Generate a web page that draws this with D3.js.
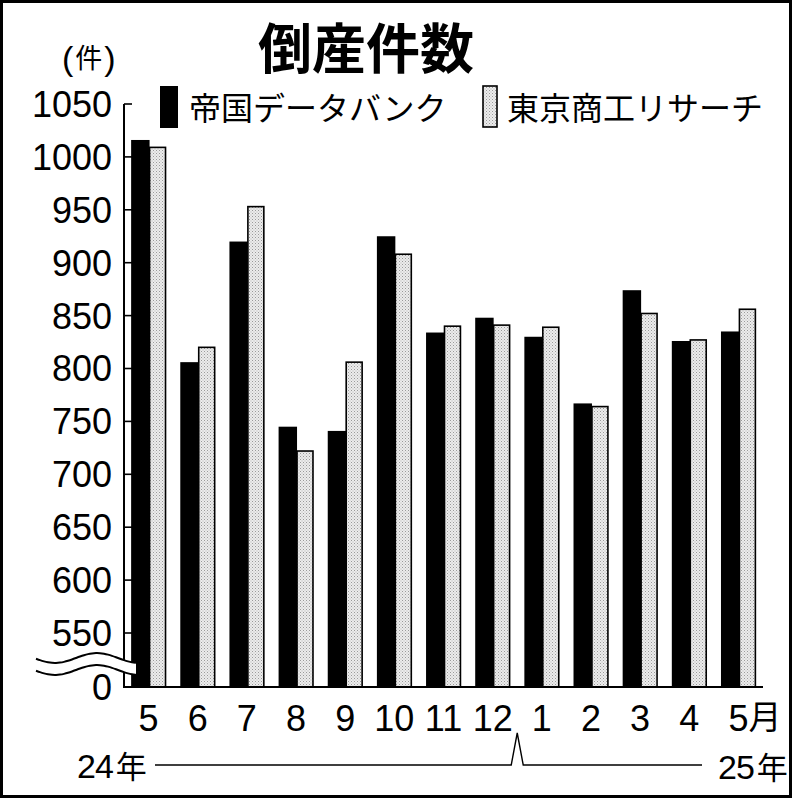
<!DOCTYPE html>
<html lang="ja">
<head>
<meta charset="UTF-8">
<title>倒産件数</title>
<script src="https://d3js.org/d3.v7.min.js"></script>
<style>
  body { margin: 0; background: #fff; }
  svg text { font-family: "Liberation Sans", Arial, "Noto Sans CJK JP", sans-serif; fill: #000; }
  .jp { font-family: "Noto Sans CJK JP", sans-serif; }
</style>
</head>
<body>
<svg width="793" height="800"></svg>
<script>
  // months on the x axis (May 2024 .. May 2025)
  const months = ["5", "6", "7", "8", "9", "10", "11", "12", "1", "2", "3", "4", "5"];
  // 帝国データバンク
  const tdb = [1016, 806, 920, 745, 741, 925, 834, 848, 830, 767, 874, 826, 835];
  // 東京商工リサーチ
  const tsr = [1009, 820, 953, 722, 806, 908, 840, 841, 839, 764, 852, 827, 856];
  const yTicks = [550, 600, 650, 700, 750, 800, 850, 900, 950, 1000, 1050];
  const seriesNames = ["帝国データバンク", "東京商工リサーチ"];

  const svg = d3.select("svg");
  const baseY = 687, axisX = 124, rightX = 763;

  // dotted light grey fill
  const pat = svg.append("defs").append("pattern")
    .attr("id", "dots").attr("width", 3).attr("height", 3)
    .attr("patternUnits", "userSpaceOnUse");
  pat.append("rect").attr("width", 3).attr("height", 3).attr("fill", "#ececec");
  pat.append("rect").attr("width", 1).attr("height", 1).attr("fill", "#9a9a9a");
  pat.append("rect").attr("x", 1.5).attr("y", 1.5).attr("width", 1).attr("height", 1).attr("fill", "#b5b5b5");

  // outer frame
  svg.append("rect").attr("x", 1.5).attr("y", 1.5).attr("width", 789).attr("height", 795)
    .attr("fill", "none").attr("stroke", "#000").attr("stroke-width", 3);

  const x0 = d3.scaleBand().domain(d3.range(months.length)).range([axisX, rightX])
    .paddingInner(0.29).paddingOuter(0.145);
  const x1 = d3.scaleBand().domain([0, 1]).range([0, x0.bandwidth()]);
  // broken axis: 550..1050 shown, bars start at 0 (baseline)
  const y = d3.scaleLinear().domain([550, 1050]).range([633, 104]);

  // bars
  const g = svg.append("g");
  months.forEach((m, i) => {
    g.append("rect")
      .attr("x", x0(i)).attr("y", y(tdb[i]))
      .attr("width", x1.bandwidth() + 1).attr("height", baseY - y(tdb[i]))
      .attr("fill", "#000");
    g.append("rect")
      .attr("x", x0(i) + x1(1) + 1).attr("y", y(tsr[i]))
      .attr("width", x1.bandwidth() - 1.5).attr("height", baseY - y(tsr[i]))
      .attr("fill", "url(#dots)").attr("stroke", "#000").attr("stroke-width", 1.6);
  });

  // y axis line, ticks, baseline
  svg.append("line").attr("x1", axisX).attr("x2", axisX).attr("y1", y(1050)).attr("y2", baseY + 1)
    .attr("stroke", "#000").attr("stroke-width", 2);
  svg.append("line").attr("x1", axisX - 1).attr("x2", rightX).attr("y1", baseY).attr("y2", baseY)
    .attr("stroke", "#000").attr("stroke-width", 2);
  svg.append("g").selectAll("line").data(yTicks).join("line")
    .attr("x1", axisX).attr("x2", axisX + 8)
    .attr("y1", d => y(d)).attr("y2", d => y(d))
    .attr("stroke", "#000").attr("stroke-width", 1.6);
  svg.append("g").selectAll("text").data(yTicks).join("text")
    .attr("x", 112).attr("y", d => y(d)).attr("dy", "0.36em")
    .attr("text-anchor", "end").style("font-size", "36px")
    .text(d => d);
  svg.append("text").attr("x", 112).attr("y", baseY).attr("dy", "0.36em")
    .attr("text-anchor", "end").style("font-size", "36px").text("0");

  // axis break (two waves with white gap)
  const wavePts = (off) => d3.range(36, 137, 4)
    .map(xx => [xx, 658 + off - 5 * Math.sin(2 * Math.PI * (xx - 76) / 84)]);
  const waveTop = wavePts(0), waveBot = wavePts(12);
  svg.append("path")
    .attr("d", d3.line()(waveTop.concat(waveBot.slice().reverse())) + "Z")
    .attr("fill", "#fff").attr("stroke", "none");
  [waveTop, waveBot].forEach(p => svg.append("path")
    .attr("d", d3.line().curve(d3.curveBasis)(p))
    .attr("fill", "none").attr("stroke", "#000").attr("stroke-width", 2));

  // month labels
  svg.append("g").selectAll("text").data(months).join("text")
    .attr("x", (d, i) => x0(i) + x0.bandwidth() / 2).attr("y", 731)
    .attr("text-anchor", "middle").style("font-size", "36px")
    .text(d => d);
  const lastX = x0(months.length - 1) + x0.bandwidth() / 2;
  svg.append("text").attr("class", "jp").attr("x", lastX + 10).attr("y", 729)
    .style("font-size", "33px").text("月");

  // year line with tick between 12 and 1
  const midX = (x0(7) + x0(8) + x0.bandwidth()) / 2;
  svg.append("path")
    .attr("d", `M155,765 L${midX - 6},765 L${midX},733 L${midX + 6},765 L702,765`)
    .attr("fill", "none").attr("stroke", "#000").attr("stroke-width", 1.4);
  svg.append("text").attr("x", 77).attr("y", 778).style("font-size", "34px")
    .style("letter-spacing", "-1px").text("24")
    .append("tspan").attr("class", "jp").attr("dx", 3).style("font-size", "31px").text("年");
  svg.append("text").attr("x", 718).attr("y", 779).style("font-size", "34px")
    .style("letter-spacing", "-1px").text("25")
    .append("tspan").attr("class", "jp").attr("dx", 3).style("font-size", "31px").text("年");

  // title and unit
  svg.append("text").attr("class", "jp").attr("x", 366).attr("y", 69)
    .attr("text-anchor", "middle").style("font-size", "54px").style("font-weight", "bold")
    .text("倒産件数");
  const unit = svg.append("text").attr("x", 62).attr("y", 70).style("font-size", "34px");
  unit.append("tspan").text("(");
  unit.append("tspan").attr("class", "jp").attr("dx", 2).attr("dy", -2).style("font-size", "27px").text("件");
  unit.append("tspan").attr("dx", 2).attr("dy", 2).text(")");

  // legend
  const legend = svg.append("g");
  legend.append("rect").attr("x", 160).attr("y", 86).attr("width", 18).attr("height", 42).attr("fill", "#000");
  legend.append("text").attr("class", "jp").attr("x", 189).attr("y", 120)
    .style("font-size", "32px").text(seriesNames[0]);
  legend.append("rect").attr("x", 483).attr("y", 86).attr("width", 14).attr("height", 41)
    .attr("fill", "url(#dots)").attr("stroke", "#000").attr("stroke-width", 1.6);
  legend.append("text").attr("class", "jp").attr("x", 507).attr("y", 120)
    .style("font-size", "32px").text(seriesNames[1]);
</script>
</body>
</html>
